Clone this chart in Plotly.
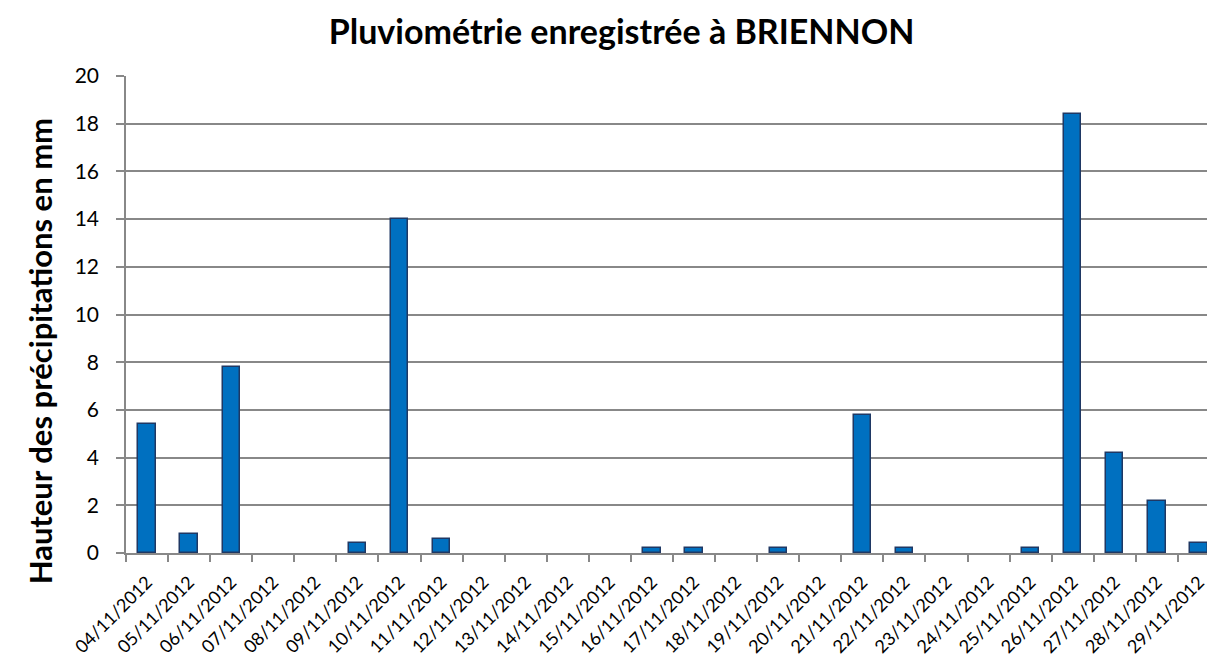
import plotly.graph_objects as go

dates = ["04/11/2012", "05/11/2012", "06/11/2012", "07/11/2012", "08/11/2012",
         "09/11/2012", "10/11/2012", "11/11/2012", "12/11/2012", "13/11/2012",
         "14/11/2012", "15/11/2012", "16/11/2012", "17/11/2012", "18/11/2012",
         "19/11/2012", "20/11/2012", "21/11/2012", "22/11/2012", "23/11/2012",
         "24/11/2012", "25/11/2012", "26/11/2012", "27/11/2012", "28/11/2012",
         "29/11/2012"]
rain_mm = [5.4, 0.8, 7.8, 0, 0, 0.4, 14, 0.6, 0, 0, 0, 0, 0.2, 0.2, 0, 0.2, 0,
           5.8, 0.2, 0, 0, 0.2, 18.4, 4.2, 2.2, 0.4]
y_ticks = [0, 2, 4, 6, 8, 10, 12, 14, 16, 18, 20]

FONT = "Lato, 'Open Sans', sans-serif"
GRID = "#888888"

# zero-valued days draw no visible bar (no outline)
outline_w = [1.5 if v > 0 else 0 for v in rain_mm]

fig = go.Figure(go.Bar(
    x=dates, y=rain_mm,
    width=0.41,
    marker=dict(color="#0070C0", line=dict(color="#1F3864", width=outline_w)),
))

fig.update_layout(
    width=1215, height=666,
    paper_bgcolor="white", plot_bgcolor="white",
    margin=dict(l=118, r=3, t=68, b=121, autoexpand=False),
    title=dict(text="<b>Pluviométrie enregistrée à BRIENNON</b>",
               xref="container", x=0.505, xanchor="center",
               yref="container", y=0.964, yanchor="middle",
               font=dict(family=FONT, size=34, color="black")),
    font=dict(family=FONT, color="black"),
    showlegend=False,
    bargap=0,
    annotations=[dict(
        text="<b>Hauteur des précipitations en mm</b>",
        xref="paper", yref="paper", x=-0.0783, y=0.4235,
        xanchor="center", yanchor="middle", textangle=-90, showarrow=False,
        font=dict(family=FONT, size=31, color="black"),
    )],
)

fig.update_xaxes(
    type="category",
    range=[-0.5, 25.5],
    tickangle=-45,
    automargin=False,
    tickfont=dict(family=FONT, size=18, color="black"),
    tickson="boundaries",
    ticks="outside", ticklen=7, tickcolor=GRID, tickwidth=1.5,
    ticklabelstandoff=10,
    showline=True, linecolor=GRID, linewidth=1.5,
    showgrid=False,
)

fig.update_yaxes(
    range=[0, 20],
    tickvals=y_ticks,
    automargin=False,
    tickfont=dict(family=FONT, size=21, color="black"),
    ticks="outside", ticklen=8, tickcolor=GRID, tickwidth=1.5,
    ticklabelstandoff=13,
    showline=True, linecolor=GRID, linewidth=1.5,
    showgrid=True, gridcolor=GRID, gridwidth=1.5,
    zeroline=False,
)

fig.write_html("out.html")
